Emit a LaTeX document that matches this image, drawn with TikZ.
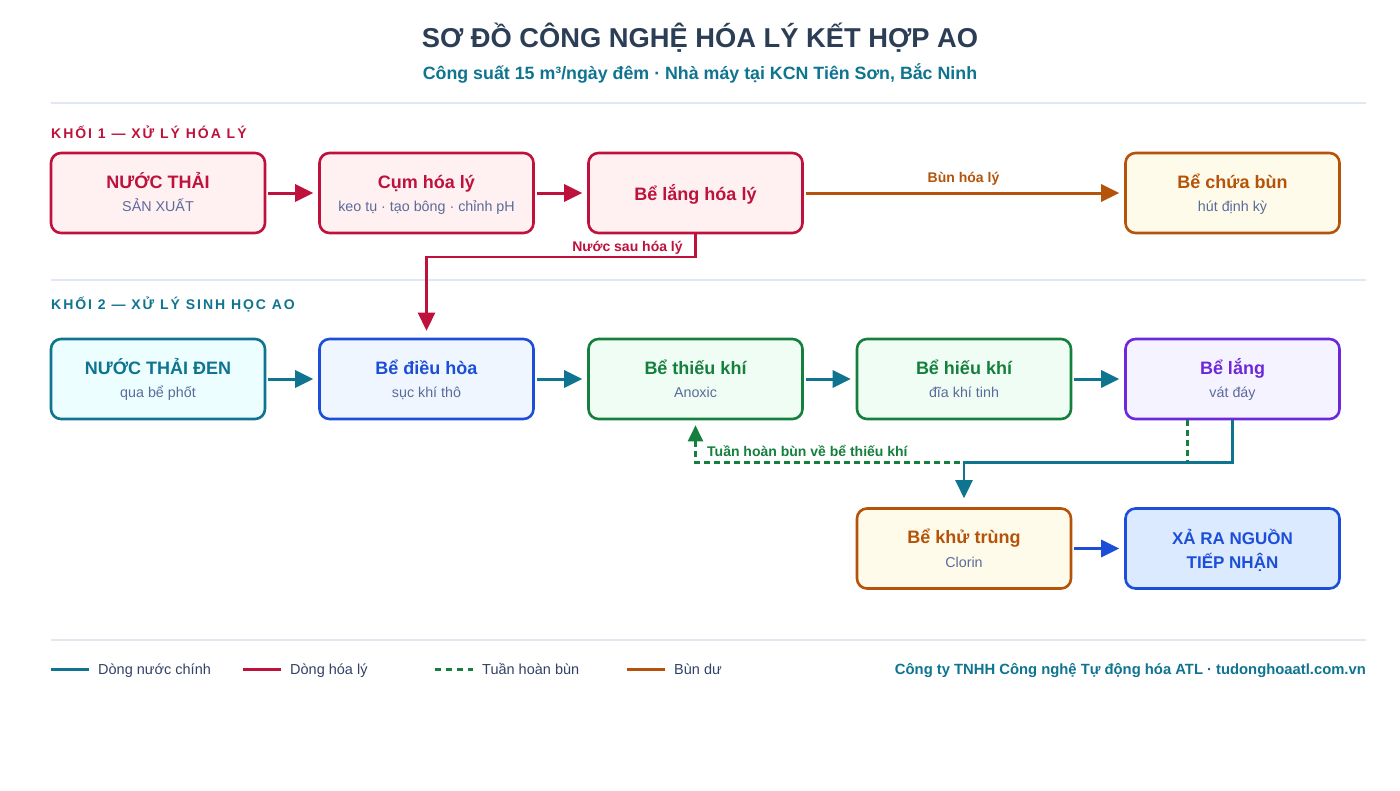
\documentclass[tikz,border=0pt]{standalone}
\usepackage{fontspec}
\setmainfont{Liberation Sans}
\usetikzlibrary{arrows.meta,calc}
\definecolor{cred}{HTML}{BE123C}
\definecolor{credf}{HTML}{FFF1F2}
\definecolor{corg}{HTML}{B45309}
\definecolor{corgf}{HTML}{FFFBEB}
\definecolor{cteal}{HTML}{0E7490}
\definecolor{ctealf}{HTML}{ECFEFF}
\definecolor{cblue}{HTML}{1D4ED8}
\definecolor{cbluef}{HTML}{EFF6FF}
\definecolor{cbluef2}{HTML}{DBEAFE}
\definecolor{cgreen}{HTML}{15803D}
\definecolor{cgreenf}{HTML}{F0FDF4}
\definecolor{cpurp}{HTML}{6D28D9}
\definecolor{cpurpf}{HTML}{F5F3FF}
\definecolor{csub}{HTML}{5B6B99}
\definecolor{ctitle}{HTML}{2C3E55}
\definecolor{csep}{HTML}{E2E8F0}
\definecolor{clegend}{HTML}{334166}
\newcommand{\fsz}[1]{\fontsize{#1}{#1}\selectfont}
\begin{document}
\begin{tikzpicture}[x=1pt,y=-1pt,
  tank/.style={draw=#1, line width=2.6pt, rounded corners=10pt, minimum width=214pt, minimum height=80pt, inner sep=0pt, outer sep=1.3pt},
  ttl/.style={font=\bfseries\fsz{18}, text=#1, inner sep=0pt, anchor=base},
  sub/.style={font=\fsz{14.3}, text=csub, inner sep=0pt, anchor=base},
  flow/.style={draw=#1, line width=3pt, -{Triangle[length=18pt,width=17pt]}, shorten <=2pt, shorten >=5pt},
  sect/.style={font=\bfseries\fsz{14}\addfontfeature{LetterSpace=14}, text=#1, anchor=base west, inner sep=0pt},
  lbl/.style={font=\bfseries\fsz{14}, text=#1, inner sep=0pt, anchor=base},
  sep/.style={draw=csep, line width=2pt},
  leg/.style={font=\fsz{14.5}, text=clegend, anchor=base west, inner sep=0pt}
]
\useasboundingbox (0,0) rectangle (1400,790);
\fill[white] (0,0) rectangle (1400,790);

% titles
\node[font=\bfseries\fsz{27.3}, text=ctitle, inner sep=0pt, anchor=base] (title) at (700,47) {SƠ ĐỒ CÔNG NGHỆ HÓA LÝ KẾT HỢP AO};
\node[font=\bfseries\fsz{17.8}, text=cteal, inner sep=0pt, anchor=base] (subtitle) at (700,79) {Công suất 15 m³/ngày đêm · Nhà máy tại KCN Tiên Sơn, Bắc Ninh};

\draw[sep] (51,103) -- (1366,103);
\draw[sep] (51,280) -- (1366,280);
\draw[sep] (51,640) -- (1366,640);

\node[sect=cred] (k1) at (51,138) {KHỐI 1 — XỬ LÝ HÓA LÝ};
\node[sect=cteal] (k2) at (51,309) {KHỐI 2 — XỬ LÝ SINH HỌC AO};

% row 1
\node[tank=cred, fill=credf] (a1) at (158,193) {};
\node[tank=cred, fill=credf] (a2) at (426.5,193) {};
\node[tank=cred, fill=credf] (a3) at (695.5,193) {};
\node[tank=corg, fill=corgf] (a4) at (1232.5,193) {};
\node[ttl=cred] (a1t) at (158,188) {NƯỚC THẢI};
\node[sub] (a1s) at (158,211) {SẢN XUẤT};
\node[ttl=cred] (a2t) at (426.5,188) {Cụm hóa lý};
\node[sub] (a2s) at (426.5,211) {keo tụ · tạo bông · chỉnh pH};
\node[ttl=cred] (a3t) at (695.5,200) {Bể lắng hóa lý};
\node[ttl=corg] (a4t) at (1232.5,188) {Bể chứa bùn};
\node[sub] (a4s) at (1232.5,211) {hút định kỳ};

% row 2
\node[tank=cteal, fill=ctealf] (b1) at (158,379) {};
\node[tank=cblue, fill=cbluef] (b2) at (426.5,379) {};
\node[tank=cgreen, fill=cgreenf] (b3) at (695.5,379) {};
\node[tank=cgreen, fill=cgreenf] (b4) at (964,379) {};
\node[tank=cpurp, fill=cpurpf] (b5) at (1232.5,379) {};
\node[ttl=cteal] (b1t) at (158,374) {NƯỚC THẢI ĐEN};
\node[sub] (b1s) at (158,397) {qua bể phốt};
\node[ttl=cblue] (b2t) at (426.5,374) {Bể điều hòa};
\node[sub] (b2s) at (426.5,397) {sục khí thô};
\node[ttl=cgreen] (b3t) at (695.5,374) {Bể thiếu khí};
\node[sub] (b3s) at (695.5,397) {Anoxic};
\node[ttl=cgreen] (b4t) at (964,374) {Bể hiếu khí};
\node[sub] (b4s) at (964,397) {đĩa khí tinh};
\node[ttl=cpurp] (b5t) at (1232.5,374) {Bể lắng};
\node[sub] (b5s) at (1232.5,397) {vát đáy};

% row 3
\node[tank=corg, fill=corgf] (c1) at (964,548.5) {};
\node[tank=cblue, fill=cbluef2] (c2) at (1232.5,548.5) {};
\node[ttl=corg] (c1t) at (964,543.5) {Bể khử trùng};
\node[sub] (c1s) at (964,567) {Clorin};
\node[font=\bfseries\fsz{17}, text=cblue, inner sep=0pt, anchor=base] (c2t) at (1232.5,544) {XẢ RA NGUỒN};
\node[font=\bfseries\fsz{17}, text=cblue, inner sep=0pt, anchor=base] (c2u) at (1232.5,568) {TIẾP NHẬN};

% row 1 flows
\draw[flow=cred] (a1) -- (a2);
\draw[flow=cred] (a2) -- (a3);
\draw[flow=corg] (a3) -- (a4);
\node[lbl=corg] (lbun) at (963.5,182) {Bùn hóa lý};
\coordinate (p1) at (695.5,257);
\coordinate (p2) at (426.5,257);
\draw[draw=cred, line width=2.6pt, -{Triangle[length=18pt,width=17pt]}, shorten >=7pt] (a3.south) -- (p1) -- (p2) -- (b2.north);
\node[lbl=cred] (lnuoc) at (627.5,251) {Nước sau hóa lý};

% row 2 flows
\draw[flow=cteal] (b1) -- (b2);
\draw[flow=cteal] (b2) -- (b3);
\draw[flow=cteal] (b3) -- (b4);
\draw[flow=cteal] (b4) -- (b5);

% recirculation and outflow
\coordinate (g0) at ($(b5.south)+(-45,0)$);
\coordinate (g1) at (1187.5,462.5);
\coordinate (g2) at (695.5,462.5);
\draw[draw=cgreen, line width=2.2pt, dash pattern=on 6pt off 4pt, -{Triangle[length=16pt,width=15pt]}, shorten >=5pt] (g0) -- (g1) -- (g2) -- (b3.south);
\coordinate (t1) at (1232.5,462.5);
\coordinate (t2) at (964,462.5);
\draw[draw=cteal, line width=2.6pt, -{Triangle[length=18pt,width=17pt]}, shorten >=9pt] (b5.south) -- (t1) -- (t2) -- (c1.north);
\node[lbl=cgreen, anchor=base west] (ltuan) at (707,456) {Tuần hoàn bùn về bể thiếu khí};

\draw[flow=cblue] (c1) -- (c2);

% legend
\coordinate (l1a) at (51,669); \coordinate (l1b) at (89,669);
\coordinate (l2a) at (243,669); \coordinate (l2b) at (281,669);
\coordinate (l3a) at (435,669); \coordinate (l3b) at (473,669);
\coordinate (l4a) at (627,669); \coordinate (l4b) at (665,669);
\draw[cteal, line width=3pt] (l1a) -- (l1b);
\draw[cred, line width=3pt] (l2a) -- (l2b);
\draw[cgreen, line width=3pt, dash pattern=on 6pt off 5pt] (l3a) -- (l3b);
\draw[corg, line width=3pt] (l4a) -- (l4b);
\node[leg] (t1l) at (98,674.5) {Dòng nước chính};
\node[leg] (t2l) at (290,674.5) {Dòng hóa lý};
\node[leg] (t3l) at (482,674.5) {Tuần hoàn bùn};
\node[leg] (t4l) at (674,674.5) {Bùn dư};
\node[font=\bfseries\fsz{14.8}, text=cteal, anchor=base east, inner sep=0pt] (company) at (1366,674.5) {Công ty TNHH Công nghệ Tự động hóa ATL · tudonghoaatl.com.vn};
\end{tikzpicture}
\end{document}
